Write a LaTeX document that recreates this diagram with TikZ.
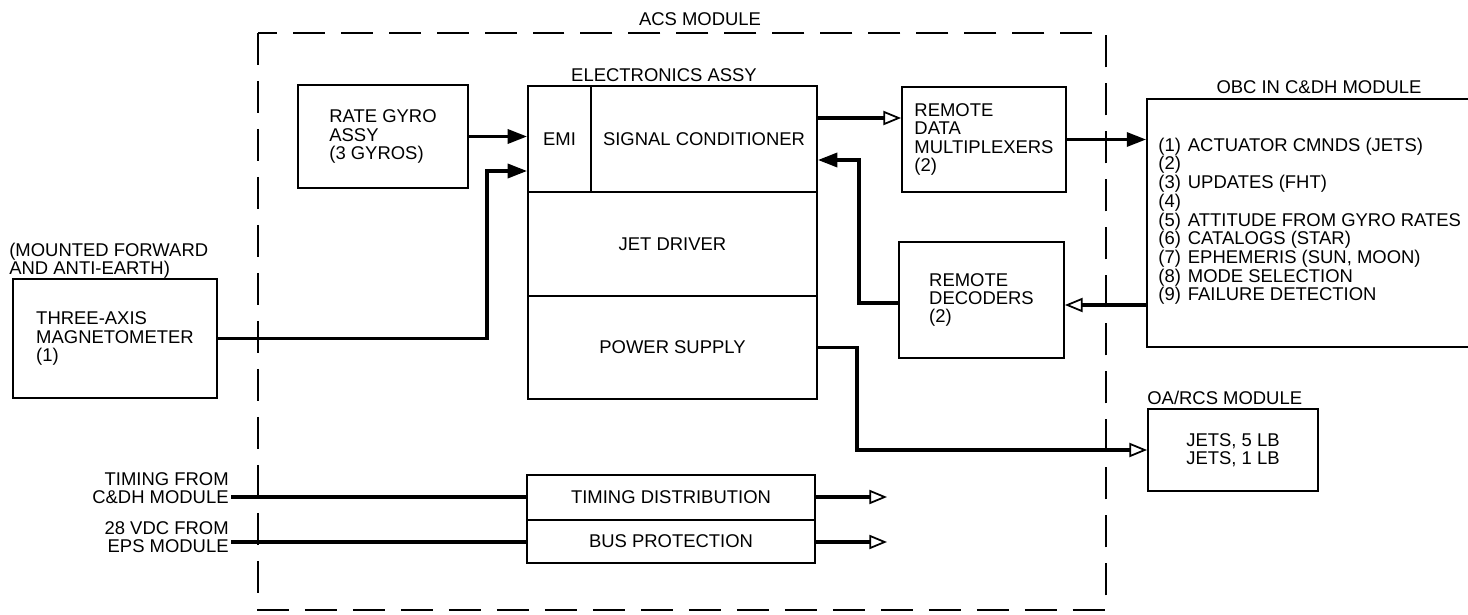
\documentclass[tikz,border=0pt]{standalone}
\usepackage{fontspec}
\setmainfont{Liberation Sans}
\usepackage{tikz}
\usetikzlibrary{arrows.meta}

\tikzset{
    box/.style={draw, line width=1.1pt, inner sep=0pt, align=left, font=\fontsize{10.5}{10.5}\selectfont},
    lbl/.style={inner sep=0pt, font=\fontsize{10.5}{10.5}\selectfont},
    conn/.style={line width=1.8pt},
    fillhead/.style={-{Triangle[length=11pt,width=8pt]}},
    openhead/.style={-{Triangle[open,length=10pt,width=8pt,line width=1pt]}},
    modline/.style={line width=1pt, dash pattern=on 0.64cm off 0.32cm}
}

\begin{document}
\begin{tikzpicture}[x=0.02cm,y=-0.02cm]
    \useasboundingbox (0,0) rectangle (1468,615);

    \draw[modline] (258,33) rectangle (1106,610);
    \node[lbl] (acs) at (700,19) {ACS MODULE};

    \node[box, minimum width=3.4cm, minimum height=2.06cm] (gyro) at (383,136.5) {RATE GYRO\\ASSY\\(3 GYROS)};

    \node[lbl] (elec) at (664,75) {ELECTRONICS ASSY};
    \node[box, minimum width=1.26cm, minimum height=2.12cm] (emi) at (559.5,139) {EMI};
    \node[box, minimum width=4.52cm, minimum height=2.12cm] (sigcond) at (704,139) {SIGNAL CONDITIONER};
    \node[box, minimum width=5.78cm, minimum height=2.08cm] (jetdrv) at (672.5,244) {JET DRIVER};
    \node[box, minimum width=5.78cm, minimum height=2.06cm] (power) at (672.5,347.5) {POWER SUPPLY};

    \node[box, minimum width=3.28cm, minimum height=2.1cm] (mux) at (984,139.5) {REMOTE\\DATA\\MULTIPLEXERS\\(2)};
    \node[box, minimum width=3.3cm, minimum height=2.32cm] (dec) at (981.5,300) {REMOTE\\DECODERS\\(2)};

    \node[box, minimum width=6.66cm, minimum height=4.96cm] (obc) at (1313.5,223) {};
    \node[lbl] (obclbl) at (1319,87) {OBC IN C\&DH MODULE};
    \node[lbl, anchor=west] (obclist) at (1158,222) {%
        \renewcommand{\arraystretch}{0.97}%
        \begin{tabular}{@{}l@{\hspace{4pt}}l@{}}
        (1) & ACTUATOR CMNDS (JETS)\\
        (2) & \\
        (3) & UPDATES (FHT)\\
        (4) & \\
        (5) & ATTITUDE FROM GYRO RATES\\
        (6) & CATALOGS (STAR)\\
        (7) & EPHEMERIS (SUN, MOON)\\
        (8) & MODE SELECTION\\
        (9) & FAILURE DETECTION
        \end{tabular}};

    \node[box, minimum width=3.4cm, minimum height=1.64cm] (oarcs) at (1233,450) {JETS, 5 LB\\JETS, 1 LB};
    \node[lbl, anchor=west] (oarcslbl) at (1147,398) {OA/RCS MODULE};

    \node[box, minimum width=4.08cm, minimum height=2.38cm] (mag) at (115,338.5) {THREE-AXIS\\MAGNETOMETER\\(1)};
    \node[lbl, anchor=west, align=left] (maglbl) at (9,261) {(MOUNTED FORWARD\\AND ANTI-EARTH)};

    \node[box, minimum width=5.76cm, minimum height=0.9cm, align=center] (timing) at (671,497.5) {TIMING DISTRIBUTION};
    \node[box, minimum width=5.76cm, minimum height=0.86cm, align=center] (busprot) at (671,541.5) {BUS PROTECTION};

    \node[lbl, anchor=east, align=right] (timinglbl) at (229,488) {TIMING FROM\\C\&DH MODULE};
    \node[lbl, anchor=east, align=right] (vdclbl) at (229,537) {28 VDC FROM\\EPS MODULE};
    \coordinate (tin) at (231,497);
    \coordinate (vin) at (231,542);
    \coordinate (tout) at (887,497);
    \coordinate (vout) at (887,542);
    \coordinate (magbend) at (487,171);
    \coordinate (decbend) at (859,160);
    \coordinate (pwrbend) at (857,450);

    \draw[conn,fillhead] (gyro.east) -- (gyro.east -| emi.west);
    \draw[conn,fillhead] (mag.east) -| (magbend) -- (magbend -| emi.west);
    \draw[conn,openhead] ([yshift=0.42cm]sigcond.east) -- ([yshift=0.42cm]sigcond.east -| mux.west);
    \draw[conn,fillhead] (mux.east) -- (mux.east -| obc.west);
    \draw[conn,openhead] ([yshift=-0.1cm]dec.east -| obc.west) -- ([yshift=-0.1cm]dec.east);
    \draw[conn,fillhead] ([yshift=-0.06cm]dec.west) -| (decbend) -- (decbend -| sigcond.east);
    \draw[conn,openhead] (power.east) -| (pwrbend) -- (oarcs.west);

    \draw[conn] (tin) -- (tin -| timing.west);
    \draw[conn] (vin) -- (vin -| busprot.west);
    \draw[conn,openhead] (tout -| timing.east) -- (tout);
    \draw[conn,openhead] (vout -| busprot.east) -- (vout);
\end{tikzpicture}
\end{document}
